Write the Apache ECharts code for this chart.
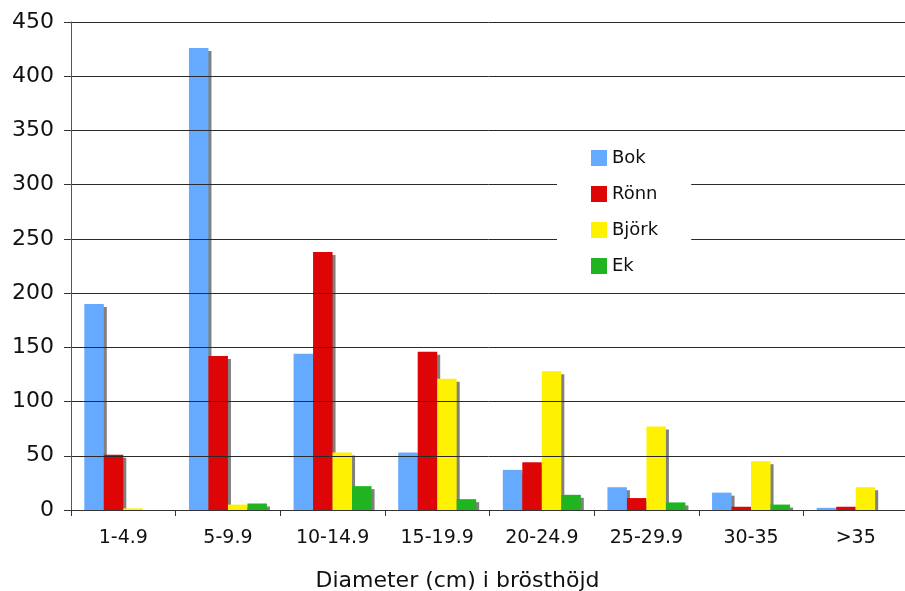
<!DOCTYPE html>
<html>
<head>
<meta charset="utf-8">
<script src="https://cdn.jsdelivr.net/npm/echarts@6/dist/echarts.min.js"></script>
<style>
  html, body { margin: 0; padding: 0; background: #fff; }
  #chart { width: 905px; height: 591px; }
</style>
</head>
<body>
<div id="chart"></div>
<script>
const categories = ['1-4.9', '5-9.9', '10-14.9', '15-19.9', '20-24.9', '25-29.9', '30-35', '>35'];
const bok   = [190, 426, 144, 53, 37, 21, 16, 2];
const ronn  = [51, 142, 238, 146, 44, 11, 3, 3];
const bjork = [1.5, 5, 53, 121, 128, 77, 45, 21];
const ek    = [0, 6, 22, 10, 14, 7, 5, 0];
const yTicks = [0, 50, 100, 150, 200, 250, 300, 350, 400, 450];

const font = 'DejaVu Sans';
const chart = echarts.init(document.getElementById('chart'));

function bar(name, color, data) {
  return {
    name: name,
    type: 'bar',
    data: data,
    barWidth: 19.5,
    barGap: 0,
    itemStyle: {
      color: color,
      shadowColor: '#808080',
      shadowBlur: 0,
      shadowOffsetX: 3,
      shadowOffsetY: 3
    },
    emphasis: { disabled: true }
  };
}

chart.setOption({
  animation: false,
  textStyle: { fontFamily: font },
  grid: { left: 71, top: 22, width: 837, bottom: 81, outerBoundsMode: 'none' },
  legend: {
    orient: 'vertical',
    left: 557,
    top: 140,
    backgroundColor: '#fff',
    padding: [9, 33, 14, 34],
    itemGap: 18,
    itemWidth: 16,
    itemHeight: 16,
    icon: 'rect',
    itemStyle: { shadowBlur: 0, shadowOffsetX: 0, shadowOffsetY: 0, shadowColor: 'transparent' },
    textStyle: { fontSize: 18, color: '#111', fontFamily: font },
    data: ['Bok', 'Rönn', 'Björk', 'Ek']
  },
  // white strip under the axis line so bar shadows stop at the axis
  graphic: [{
    type: 'rect',
    shape: { x: 72, y: 511, width: 840, height: 6 },
    style: { fill: '#fff' },
    z: 2.5
  }],
  xAxis: {
    type: 'category',
    data: categories,
    name: 'Diameter (cm) i brösthöjd',
    nameLocation: 'middle',
    nameGap: 60,
    nameTextStyle: { fontSize: 22, color: '#111', fontFamily: font, padding: [0, 64, 0, 0] },
    axisLine: { lineStyle: { color: '#333', width: 1 } },
    axisTick: { show: true, length: 6, lineStyle: { color: '#333' } },
    axisLabel: { fontSize: 19, color: '#111', margin: 19, fontFamily: font },
    z: 3
  },
  yAxis: {
    type: 'value',
    min: yTicks[0],
    max: yTicks[yTicks.length - 1],
    interval: 50,
    axisLine: { show: true, lineStyle: { color: '#555', width: 1 } },
    axisTick: { show: true, length: 7, lineStyle: { color: '#333' } },
    axisLabel: { fontSize: 22, color: '#111', margin: 17, fontFamily: font },
    splitLine: { lineStyle: { color: '#2a2a2a', width: 1 } },
    z: 3
  },
  series: [
    bar('Bok', '#66aaff', bok),
    bar('Rönn', '#dd0505', ronn),
    bar('Björk', '#fff200', bjork),
    bar('Ek', '#20b520', ek)
  ]
});
</script>
</body>
</html>
